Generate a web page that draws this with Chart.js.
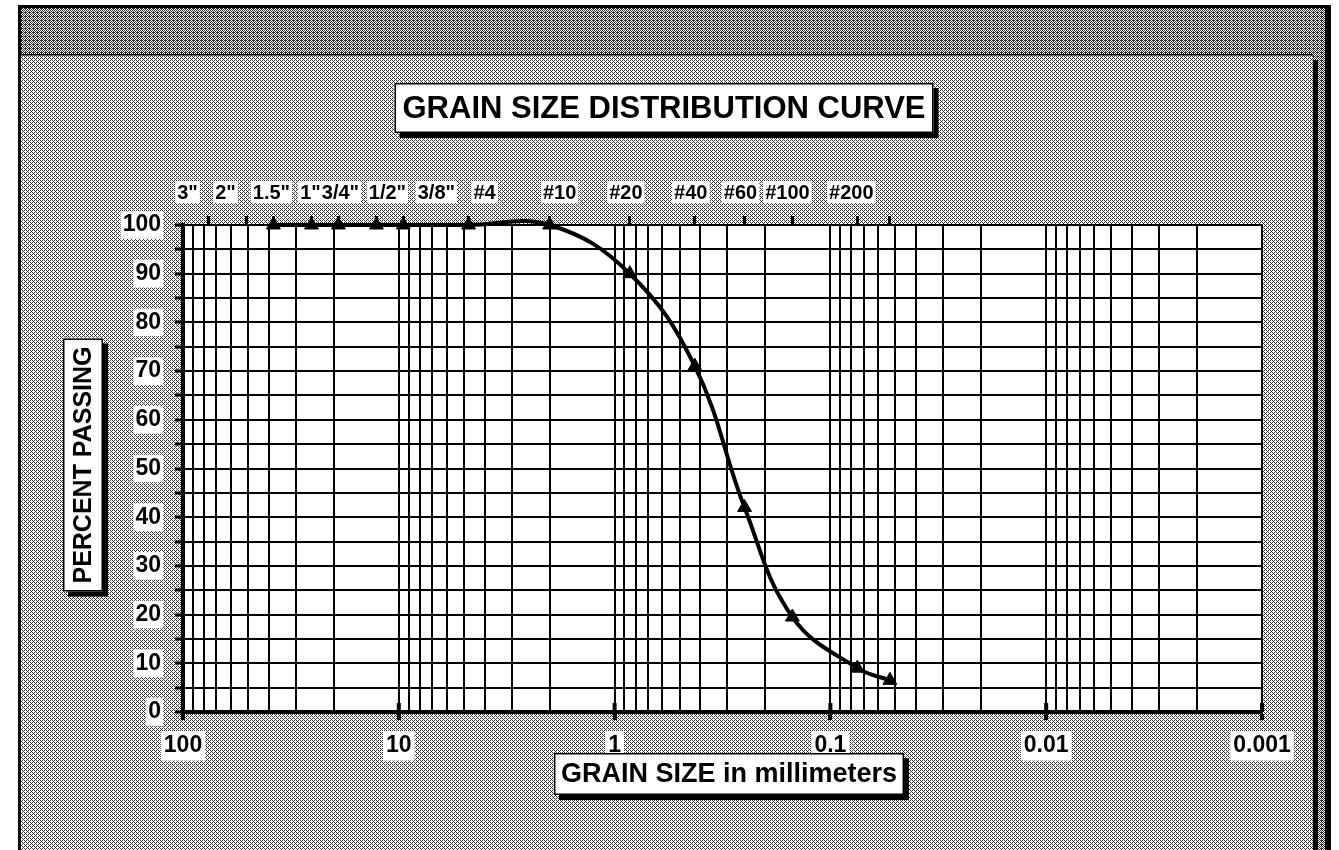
<!DOCTYPE html>
<html><head><meta charset="utf-8">
<script src="https://cdn.jsdelivr.net/npm/chart.js@4.4.1/dist/chart.umd.min.js"></script>
<style>html,body{margin:0;padding:0;background:#fff;overflow:hidden}canvas{display:block}</style>
</head><body>
<canvas id="c" width="1339" height="850"></canvas>
<script>
// ---------------- data ----------------
const sieveNames     = ['1.5"','1"','3/4"','1/2"','3/8"','#4','#10','#20','#40','#60','#100','#200','#270'];
const grainSizeMm    = [38.1, 25.4, 19.05, 12.7, 9.525, 4.75, 2.0, 0.85, 0.425, 0.25, 0.15, 0.075, 0.053];
const percentPassing = [100, 100, 100, 100, 100, 100, 100, 90, 71, 42, 19.5, 9, 6.5];

const topTickLabels  = ['3"','2"','1.5"','1"','3/4"','1/2"','3/8"','#4','#10','#20','#40','#60','#100','#200',''];
const topTickSizesMm = [76.2, 50.8, 38.1, 25.4, 19.05, 12.7, 9.525, 4.75, 2.0, 0.85, 0.425, 0.25, 0.15, 0.075, 0.053];

const xDecades      = [100, 10, 1, 0.1, 0.01, 0.001];
const xDecadeLabels = ['100', '10', '1', '0.1', '0.01', '0.001'];
const minorMultipliers = [1, 2, 3, 4, 5, 6, 7, 8, 9];

const chartTitle = 'GRAIN SIZE DISTRIBUTION CURVE';
const xTitle = 'GRAIN SIZE in millimeters';
const yTitle = 'PERCENT PASSING';

// ---------------- layout / style ----------------
const FONT = "'Liberation Sans', Arial, Helvetica, sans-serif";
Chart.defaults.font.family = FONT;
Chart.defaults.color = '#000';
// horizontal nudges of the top sieve labels (label layout only)
const topLabelNudgePx = [-21, -21, -2, -1, 2, 11, 33, 16, 10, -4, -4, -4, -5, -6];

const xGridValues = [100];
[10, 1, 0.1, 0.01, 0.001].forEach(d => minorMultipliers.forEach(k => xGridValues.push(Number((d * k).toPrecision(6)))));

function decadeIndex(v) {
  return xDecades.findIndex(d => Math.abs(d - v) < d * 1e-6);
}

function makePattern(ctx, darkCount, dark, light) {
  const bayer = [0, 8, 2, 10, 12, 4, 14, 6, 3, 11, 1, 9, 15, 7, 13, 5];
  const c = document.createElement('canvas');
  c.width = 4; c.height = 4;
  const g = c.getContext('2d');
  for (let i = 0; i < 16; i++) {
    g.fillStyle = bayer[i] < darkCount ? dark : light;
    g.fillRect(i % 4, Math.floor(i / 4), 1, 1);
  }
  return ctx.createPattern(c, 'repeat');
}

function shadowBox(ctx, x, y, w, h) {
  ctx.fillStyle = '#000';
  ctx.fillRect(x + 5, y + 5, w, h);
  ctx.fillStyle = '#fff';
  ctx.fillRect(x, y, w, h);
  ctx.strokeStyle = '#000';
  ctx.lineWidth = 1.5;
  ctx.strokeRect(x + 0.75, y + 0.75, w - 1.5, h - 1.5);
}

const backgroundPlugin = {
  id: 'bg',
  beforeDraw(chart) {
    const ctx = chart.ctx, W = chart.width, H = chart.height;
    const a = chart.chartArea;
    ctx.save();
    ctx.fillStyle = '#fff';
    ctx.fillRect(0, 0, W, H);
    // outer frame
    ctx.fillStyle = '#000';
    ctx.fillRect(18, 5, 1313, H - 5);
    ctx.fillStyle = makePattern(ctx, 9, '#2c2c2c', '#ffffff');
    ctx.fillRect(21, 8, 1304, H - 8);
    // inner panel with shadow
    ctx.fillStyle = '#000';
    ctx.fillRect(27, 60, 1291, H - 60);
    ctx.fillStyle = makePattern(ctx, 6, '#3c3c3c', '#ffffff');
    ctx.fillRect(21, 55, 1292, H - 55);
    ctx.fillStyle = '#000';
    ctx.fillRect(21, 54, 1292, 1.5);
    // plot area
    ctx.fillStyle = '#fff';
    ctx.fillRect(a.left, a.top, a.right - a.left, a.bottom - a.top);
    ctx.restore();
  }
};

const decorPlugin = {
  id: 'decor',
  afterDraw(chart) {
    const ctx = chart.ctx;
    const a = chart.chartArea;
    ctx.save();

    // decade tick marks crossing the bottom axis
    const xs = chart.scales.x;
    ctx.fillStyle = '#000';
    xDecades.forEach(d => {
      const px = xs.getPixelForValue(d);
      ctx.fillRect(px - 2, a.bottom - 9, 4, 9);
    });

    ctx.textAlign = 'center';
    ctx.textBaseline = 'middle';

    // chart title
    ctx.font = 'bold 31px ' + FONT;
    let tw = ctx.measureText(chartTitle).width;
    let w = tw + 16, h = 50, cx = 664, cy = 108;
    shadowBox(ctx, cx - w / 2, cy - h / 2, w, h);
    ctx.fillStyle = '#000';
    ctx.fillText(chartTitle, cx, cy + 1);

    // x axis title
    ctx.font = 'bold 27px ' + FONT;
    tw = ctx.measureText(xTitle).width;
    w = tw + 14; h = 42; cx = 729; cy = 774;
    shadowBox(ctx, cx - w / 2, cy - h / 2, w, h);
    ctx.fillStyle = '#000';
    ctx.fillText(xTitle, cx, cy + 1);

    // y axis title
    ctx.font = 'bold 25px ' + FONT;
    tw = ctx.measureText(yTitle).width;
    w = 40; h = tw + 16; cx = 83; cy = 465;
    shadowBox(ctx, cx - w / 2, cy - h / 2, w, h);
    ctx.save();
    ctx.translate(cx + 1, cy);
    ctx.rotate(-Math.PI / 2);
    ctx.fillStyle = '#000';
    ctx.fillText(yTitle, 0, 0);
    ctx.restore();

    // top sieve labels
    const x2 = chart.scales.x2;
    ctx.font = 'bold 20px ' + FONT;
    topTickLabels.forEach((lab, i) => {
      if (!lab) return;
      const px = x2.getPixelForValue(topTickSizesMm[i]) + (topLabelNudgePx[i] || 0);
      const lw = ctx.measureText(lab).width;
      ctx.fillStyle = '#fff';
      ctx.fillRect(px - lw / 2 - 2, 181, lw + 4, 22);
      ctx.fillStyle = '#000';
      ctx.fillText(lab, px, 193);
    });
    ctx.restore();
  }
};

new Chart(document.getElementById('c').getContext('2d'), {
  type: 'line',
  data: {
    labels: sieveNames,
    datasets: [{
      label: 'Percent passing',
      data: grainSizeMm.map((x, i) => ({ x: x, y: percentPassing[i] })),
      borderColor: '#000',
      backgroundColor: '#000',
      borderWidth: 4,
      tension: 0.4,
      capBezierPoints: false,
      pointStyle: 'triangle',
      pointRadius: 8,
      pointBackgroundColor: '#000',
      pointBorderColor: '#000',
      pointBorderWidth: 1,
      clip: false,
      xAxisID: 'x',
      yAxisID: 'y'
    }]
  },
  options: {
    responsive: false,
    animation: false,
    events: [],
    layout: { padding: { left: 0, right: 77, top: 150, bottom: 60 } },
    plugins: { legend: { display: false }, title: { display: false }, tooltip: { enabled: false } },
    scales: {
      x: {
        type: 'logarithmic', position: 'bottom', reverse: true, min: 0.001, max: 100,
        afterBuildTicks: s => { s.ticks = xGridValues.map(v => ({ value: v })); },
        afterFit: s => { s.height = 78; },
        ticks: {
          autoSkip: false, maxRotation: 0, minRotation: 0, color: '#000', padding: 12,
          font: { size: 23, weight: 'bold' },
          callback: v => { const i = decadeIndex(v); return i >= 0 ? xDecadeLabels[i] : ''; },
          showLabelBackdrop: c => !!(c.tick && decadeIndex(c.tick.value) >= 0),
          backdropColor: '#fff', backdropPadding: { x: 3, y: 1 }
        },
        grid: {
          color: '#000', lineWidth: 2, tickLength: 8, tickWidth: 4,
          tickColor: c => (c.tick && decadeIndex(c.tick.value) >= 0) ? '#000' : 'rgba(0,0,0,0)'
        },
        border: { display: true, color: '#000', width: 4 }
      },
      x2: {
        type: 'logarithmic', position: 'top', reverse: true, min: 0.001, max: 100,
        afterBuildTicks: s => { s.ticks = topTickSizesMm.map(v => ({ value: v })); },
        afterFit: s => { s.height = 75; },
        ticks: { display: false },
        grid: { drawOnChartArea: false, color: '#000', lineWidth: 3, tickLength: 9, tickWidth: 3 },
        border: { display: false }
      },
      y: {
        type: 'linear', position: 'left', min: 0, max: 100,
        afterFit: s => { s.width = 183; },
        ticks: {
          stepSize: 5, autoSkip: false, color: '#000', padding: 14,
          font: { size: 23, weight: 'bold' },
          callback: v => (v % 10 === 0 ? String(v) : ''),
          showLabelBackdrop: c => !!(c.tick && c.tick.value % 10 === 0),
          backdropColor: '#fff', backdropPadding: { x: 2, y: 0 }
        },
        grid: { color: '#000', lineWidth: 2, tickLength: 8, tickWidth: 3 },
        border: { display: true, color: '#000', width: 4 }
      }
    }
  },
  plugins: [backgroundPlugin, decorPlugin]
});
</script>
</body></html>
